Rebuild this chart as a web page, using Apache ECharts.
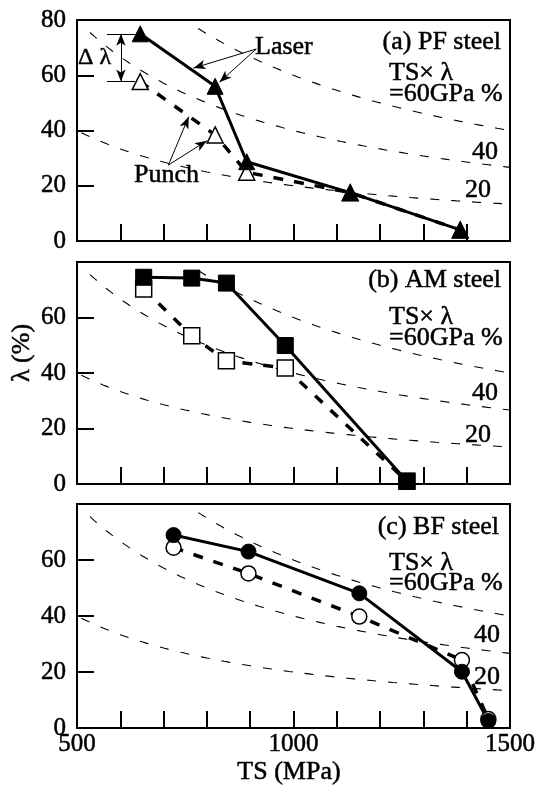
<!DOCTYPE html>
<html>
<head>
<meta charset="utf-8">
<script src="https://cdn.jsdelivr.net/npm/echarts@6/dist/echarts.min.js"></script>
<style>
  html, body { margin: 0; padding: 0; background: #fff; }
  #main { width: 542px; height: 794px; }
</style>
</head>
<body>
<div id="main"></div>
<script>
// (a) PF steel
var TS_A = [646, 819, 892, 1131, 1385];
var LAMBDA_A_LASER = [75, 56, 28.7, 17.5, 4];
var LAMBDA_A_PUNCH = [57.7, 38.4, 24.9, 17.5, 4];
// (b) AM steel
var TS_B = [654, 765, 845, 981, 1262];
var LAMBDA_B_LASER = [74.5, 74.2, 72.4, 49.9, 1];
var LAMBDA_B_PUNCH = [70.3, 53.4, 44.4, 41.8, 1];
// (c) BF steel
var TS_C = [723, 896, 1152, 1389, 1450];
var LAMBDA_C_LASER = [68.9, 63, 48.1, 20.1, 2.5];
var LAMBDA_C_PUNCH = [64.4, 55.2, 39.8, 24.3, 3.2];

// TS x lambda = const (GPa %) guide curves
var ISO_LEVELS = [20, 40, 60];
var ISO_TS_START = [510, 530, 780];

var X_TICKS = [500, 1000, 1500];
var Y_TICKS = [0, 20, 40, 60, 80];

var chartDom = document.getElementById("main");
var myChart = echarts.init(chartDom, null, { renderer: "canvas" });

var FONT = "Liberation Serif";
var panelTops = [20, 262, 504];
var panelHeights = [221, 222, 224];

function pairs(xs, ys) {
    var out = [];
    for (var i = 0; i < xs.length; i++) out.push([xs[i], ys[i]]);
    return out;
}

function isoCurve(level, start) {
    var pts = [];
    for (var ts = start; ts <= 1500; ts += 10) {
        pts.push([ts, (level * 1000) / ts]);
    }
    return pts;
}

var grids = [], xAxes = [], yAxes = [], series = [];
for (var p = 0; p < 3; p++) {
    grids.push({
        left: 77, right: 32, top: panelTops[p], height: panelHeights[p],
        show: true, borderColor: "#000", borderWidth: 2, backgroundColor: "transparent",
    });
    xAxes.push({
        type: "value", gridIndex: p, min: 500, max: 1500, interval: 100,
        axisLine: { lineStyle: { color: "#000", width: 2 } },
        axisTick: { inside: true, length: 17, lineStyle: { color: "#000", width: 2 } },
        axisLabel: {
            show: p === 2, margin: 4, color: "#000", fontFamily: FONT, fontSize: 25,
            textBorderColor: "#000", textBorderWidth: 0.5,
            formatter: function (v) { return X_TICKS.indexOf(v) >= 0 ? String(v) : ""; },
        },
        splitLine: { show: false },
    });
    yAxes.push({
        type: "value", gridIndex: p, min: 0, max: 80, interval: 20,
        axisLine: { lineStyle: { color: "#000", width: 2 } },
        axisTick: { inside: true, length: 17, lineStyle: { color: "#000", width: 2 } },
        axisLabel: {
            margin: 11, color: "#000", fontFamily: FONT, fontSize: 25,
            textBorderColor: "#000", textBorderWidth: 0.5,
            showMaxLabel: p === 0,
            formatter: function (v) { return Y_TICKS.indexOf(v) >= 0 ? String(v) : ""; },
        },
        splitLine: { show: false },
    });
    for (var k = 0; k < ISO_LEVELS.length; k++) {
        series.push({
            type: "line", xAxisIndex: p, yAxisIndex: p, silent: true,
            data: isoCurve(ISO_LEVELS[k], ISO_TS_START[k]),
            showSymbol: false, smooth: false,
            lineStyle: { color: "#000", width: 1.1, type: [9, 12] },
        });
    }
}

var panels = [
    { ts: TS_A, laser: LAMBDA_A_LASER, punch: LAMBDA_A_PUNCH, sym: "triangle", size: 16 },
    { ts: TS_B, laser: LAMBDA_B_LASER, punch: LAMBDA_B_PUNCH, sym: "rect", size: 16 },
    { ts: TS_C, laser: LAMBDA_C_LASER, punch: LAMBDA_C_PUNCH, sym: "circle", size: 15 },
];

panels.forEach(function (pn, p) {
    series.push({
        name: "Punch", type: "line", xAxisIndex: p, yAxisIndex: p, clip: false,
        data: pairs(pn.ts, pn.punch),
        symbol: pn.sym, symbolSize: pn.size,
        itemStyle: { color: "#fff", borderColor: "#000", borderWidth: 1.5 },
        lineStyle: { color: "#000", width: 3.5, type: [10, 11] },
    });
    var laser = {
        name: "Laser", type: "line", xAxisIndex: p, yAxisIndex: p, clip: false,
        data: pairs(pn.ts, pn.laser),
        symbol: pn.sym, symbolSize: pn.size,
        itemStyle: { color: "#000", borderColor: "#000", borderWidth: 1 },
        lineStyle: { color: "#000", width: 3 },
    };
    if (p === 0) {
        laser.markLine = {
            silent: true, animation: false,
            symbol: ["none", "arrow"], symbolSize: [7, 12],
            label: { show: false },
            lineStyle: { color: "#000", width: 1, type: "solid" },
            data: [
                [{ coord: [914, 69.5] }, { coord: [769, 62.6] }],
                [{ coord: [914, 69.5] }, { coord: [829, 57.5] }],
                [{ coord: [711, 27.5] }, { coord: [758, 45] }],
                [{ coord: [711, 27.5] }, { coord: [800, 36.3] }],
                [{ coord: [569, 75], symbol: "none" }, { coord: [636, 75], symbol: "none" }],
                [{ coord: [569, 57.7], symbol: "none" }, { coord: [634, 57.7], symbol: "none" }],
                [{ coord: [601.5, 57.7], symbol: "arrow" }, { coord: [601.5, 75], symbol: "arrow" }],
            ],
        };
    }
    series.push(laser);
});

function txt(x, y, s, align, size) {
    return {
        type: "text", x: x, y: y, z: 10, silent: true,
        style: {
            text: s, fill: "#000", fontFamily: FONT, fontSize: size || 26,
            stroke: "#000", lineWidth: 0.5,
            align: align || "left", verticalAlign: "middle",
        },
    };
}

var graphics = [
    // panel a
    txt(501, 42, "(a) PF steel", "right"),
    txt(389, 73, "TS\u00d7 \u03bb"),
    txt(389, 94, "=60GPa %"),
    txt(498, 152, "40", "right"),
    txt(491, 190, "20", "right"),
    txt(255, 47, "Laser"),
    txt(134, 175, "Punch"),
    txt(78, 58, "\u0394 \u03bb", "left", 24),
    // panel b
    txt(501, 280, "(b) AM steel", "right"),
    txt(389, 317, "TS\u00d7 \u03bb"),
    txt(389, 338, "=60GPa %"),
    txt(498, 393, "40", "right"),
    txt(491, 435, "20", "right"),
    // panel c
    txt(499, 527, "(c) BF steel", "right"),
    txt(389, 563, "TS\u00d7 \u03bb"),
    txt(389, 583, "=60GPa %"),
    txt(500, 635, "40", "right"),
    txt(500, 677, "20", "right"),
    // axis names
    txt(289, 772, "TS (MPa)", "center", 26),
    {
        type: "text", x: 22, y: 353, rotation: Math.PI / 2, z: 10, silent: true,
        style: {
            text: "\u03bb (%)", fill: "#000", fontFamily: FONT, fontSize: 26,
            stroke: "#000", lineWidth: 0.5,
            align: "center", verticalAlign: "middle",
        },
    },
];

var option = {
    animation: false,
    backgroundColor: "#fff",
    textStyle: { fontFamily: FONT },
    grid: grids,
    xAxis: xAxes,
    yAxis: yAxes,
    series: series,
    graphic: graphics,
};

option && myChart.setOption(option);
</script>
</body>
</html>
